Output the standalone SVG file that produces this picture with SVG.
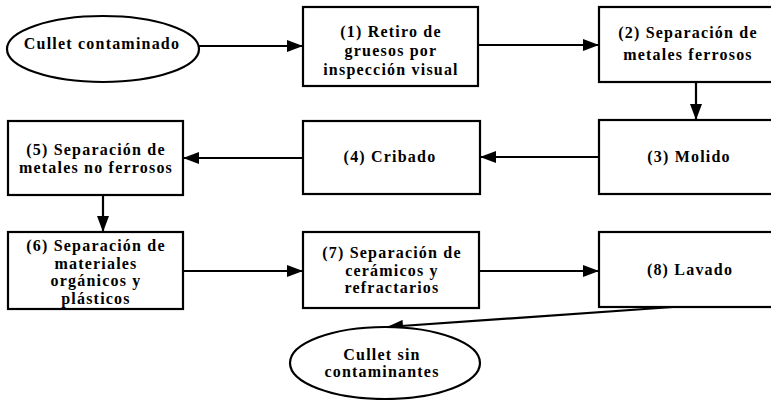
<svg xmlns="http://www.w3.org/2000/svg" width="771" height="400" viewBox="0 0 771 400">
<style>
.box{fill:#fff;stroke:#000;stroke-width:2.2}
.ell{fill:#fff;stroke:#000;stroke-width:2.2}
.lbl{font-family:"Liberation Serif","Times New Roman",serif;font-weight:bold;font-size:16px;letter-spacing:1.2px;text-anchor:middle;fill:#000}
.con{fill:none;stroke:#000;stroke-width:2.2}
</style>
<defs>
<marker id="ah" markerUnits="userSpaceOnUse" markerWidth="16" markerHeight="12" refX="16" refY="6" orient="auto">
<path d="M0,0 L16,6 L0,12 z" fill="#000"/>
</marker>
</defs>
<rect width="771" height="400" fill="#fff"/>
<g id="connectors">
<path class="con" d="M199,46 L303,46" marker-end="url(#ah)"/>
<path class="con" d="M478,45 L599,45" marker-end="url(#ah)"/>
<path class="con" d="M696,82 L696,120" marker-end="url(#ah)"/>
<path class="con" d="M599,157 L480,157" marker-end="url(#ah)"/>
<path class="con" d="M303,158 L183,158" marker-end="url(#ah)"/>
<path class="con" d="M103,195 L103,232" marker-end="url(#ah)"/>
<path class="con" d="M183,271 L303,271" marker-end="url(#ah)"/>
<path class="con" d="M479,271 L599,271" marker-end="url(#ah)"/>
<path class="con" d="M673,307 L387,327" marker-end="url(#ah)"/>
</g>
<g id="start">
<ellipse class="ell" cx="103" cy="49" rx="96" ry="33"/>
<text class="lbl" x="102" y="49">Cullet contaminado</text>
</g>
<g id="n1">
<rect class="box" x="303" y="7" width="175" height="79"/>
<text class="lbl" x="391" y="37">(1) Retiro de</text>
<text class="lbl" x="391" y="56">gruesos por</text>
<text class="lbl" x="391" y="75">inspección visual</text>
</g>
<g id="n2">
<rect class="box" x="599" y="7" width="176" height="75"/>
<text class="lbl" x="688" y="38">(2) Separación de</text>
<text class="lbl" x="688" y="60">metales ferrosos</text>
</g>
<g id="n3">
<rect class="box" x="599" y="120" width="176" height="74"/>
<text class="lbl" x="689" y="162">(3) Molido</text>
</g>
<g id="n4">
<rect class="box" x="303" y="121" width="177" height="73"/>
<text class="lbl" x="390" y="162">(4) Cribado</text>
</g>
<g id="n5">
<rect class="box" x="8" y="121" width="175" height="74"/>
<text class="lbl" x="96" y="155">(5) Separación de</text>
<text class="lbl" x="96" y="173">metales no ferrosos</text>
</g>
<g id="n6">
<rect class="box" x="8" y="232" width="175" height="77"/>
<text class="lbl" x="96" y="251">(6) Separación de</text>
<text class="lbl" x="96" y="268.5">materiales</text>
<text class="lbl" x="96" y="286">orgánicos y</text>
<text class="lbl" x="96" y="303.5">plásticos</text>
</g>
<g id="n7">
<rect class="box" x="303" y="232" width="176" height="76"/>
<text class="lbl" x="392" y="258">(7) Separación de</text>
<text class="lbl" x="392" y="275.5">cerámicos y</text>
<text class="lbl" x="392" y="293">refractarios</text>
</g>
<g id="n8">
<rect class="box" x="599" y="232" width="176" height="75"/>
<text class="lbl" x="690" y="275">(8) Lavado</text>
</g>
<g id="end">
<ellipse class="ell" cx="385" cy="363" rx="95" ry="36"/>
<text class="lbl" x="382" y="359.5">Cullet sin</text>
<text class="lbl" x="382" y="377">contaminantes</text>
</g>
</svg>
